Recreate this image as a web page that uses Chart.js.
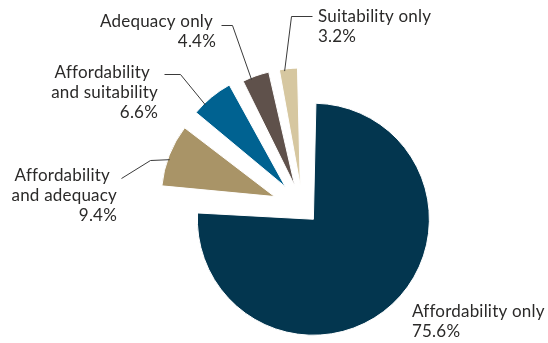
<!DOCTYPE html>
<html lang="en">
<head>
    <meta charset="UTF-8">
    <title>Affordability, adequacy and suitability</title>
    <script src="https://cdn.jsdelivr.net/npm/chart.js@4.4.1/dist/chart.umd.min.js"></script>
    <style>
        body {
            margin: 0;
            background: #ffffff;
        }
        #wrap {
            width: 548px;
            height: 343px;
        }
    </style>
</head>
<body>
    <div id="wrap">
        <canvas id="pieChart" width="548" height="343"></canvas>
    </div>

    <script>
        // data
        const categories = ['Affordability only', 'Affordability and adequacy', 'Affordability and suitability', 'Adequacy only', 'Suitability only'];
        const shares = [75.6, 9.4, 6.6, 4.4, 3.2];
        const shareLabels = ['75.6%', '9.4%', '6.6%', '4.4%', '3.2%'];

        const colors = ['#03364f', '#a99467', '#006291', '#5f514b', '#d6c7a0'];
        // chart.js moves a slice by offset/4 (and grows it a bit too)
        const offsets = [64, 120, 108, 92, 88];

        // where each label sits, and where its leader line bends
        const labelLayout = [
            { lines: ['Affordability only', shareLabels[0]], x: 412, y: 317, align: 'left', shift: [0, 0] },
            { lines: ['Affordability', 'and adequacy', shareLabels[1]], x: 117, y: 181, align: 'right', shift: [-7, 0, 0],
              leader: [[121, 178], [150, 160]], frac: 0.44 },
            { lines: ['Affordability', 'and suitability', shareLabels[2]], x: 158, y: 78, align: 'right', shift: [-8, 0, 0],
              leader: [[164, 74], [180, 74]], frac: 0.3 },
            { lines: ['Adequacy only', shareLabels[3]], x: 216, y: 27, align: 'right', shift: [-3, 0],
              leader: [[221, 25], [232, 25]], frac: 0.34 },
            { lines: ['Suitability only', shareLabels[4]], x: 318, y: 22, align: 'left', shift: [0, 0],
              leader: [[312, 16], [291, 16]], frac: 0.33 }
        ];

        const pieLabels = {
            id: 'pieLabels',
            afterDatasetsDraw(chart) {
                const ctx = chart.ctx;
                const arcs = chart.getDatasetMeta(0).data;
                ctx.save();
                ctx.font = '17px Lato, "Open Sans", sans-serif';
                ctx.letterSpacing = '0.2px';
                ctx.fillStyle = '#2b2a29';
                ctx.strokeStyle = '#3a3a3a';
                ctx.lineWidth = 1;
                labelLayout.forEach((lab, i) => {
                    ctx.textAlign = lab.align;
                    ctx.textBaseline = 'alphabetic';
                    lab.lines.forEach((txt, k) => {
                        ctx.fillText(txt, lab.x + lab.shift[k], lab.y + k * 20);
                    });
                    if (!lab.leader) return;
                    // point on the slice's outer edge, after chart.js has moved it out
                    const arc = arcs[i];
                    const t = (arc.options.offset || 0) / 4;
                    const half = (arc.startAngle + arc.endAngle) / 2;
                    const cx = arc.x + Math.cos(half) * t;
                    const cy = arc.y + Math.sin(half) * t;
                    const r = arc.outerRadius + t * (1 - Math.sin(Math.min(Math.PI, arc.circumference))) - 2;
                    const a = arc.startAngle + lab.frac * (arc.endAngle - arc.startAngle);
                    ctx.beginPath();
                    ctx.moveTo(lab.leader[0][0] + 0.5, lab.leader[0][1] + 0.5);
                    ctx.lineTo(lab.leader[1][0] + 0.5, lab.leader[1][1] + 0.5);
                    ctx.lineTo(cx + Math.cos(a) * r, cy + Math.sin(a) * r);
                    ctx.stroke();
                });
                ctx.restore();
            }
        };

        const ctx = document.getElementById('pieChart').getContext('2d');
        new Chart(ctx, {
            type: 'pie',
            data: {
                labels: categories,
                datasets: [{
                    data: shares,
                    backgroundColor: colors,
                    borderColor: '#ffffff',
                    borderWidth: 1,
                    offset: offsets
                }]
            },
            options: {
                responsive: false,
                animation: false,
                radius: 100,
                layout: {
                    padding: { left: 57, top: 72, right: 0, bottom: 0 }
                },
                plugins: {
                    legend: { display: false },
                    tooltip: { enabled: false }
                }
            },
            plugins: [pieLabels]
        });
    </script>
</body>
</html>
